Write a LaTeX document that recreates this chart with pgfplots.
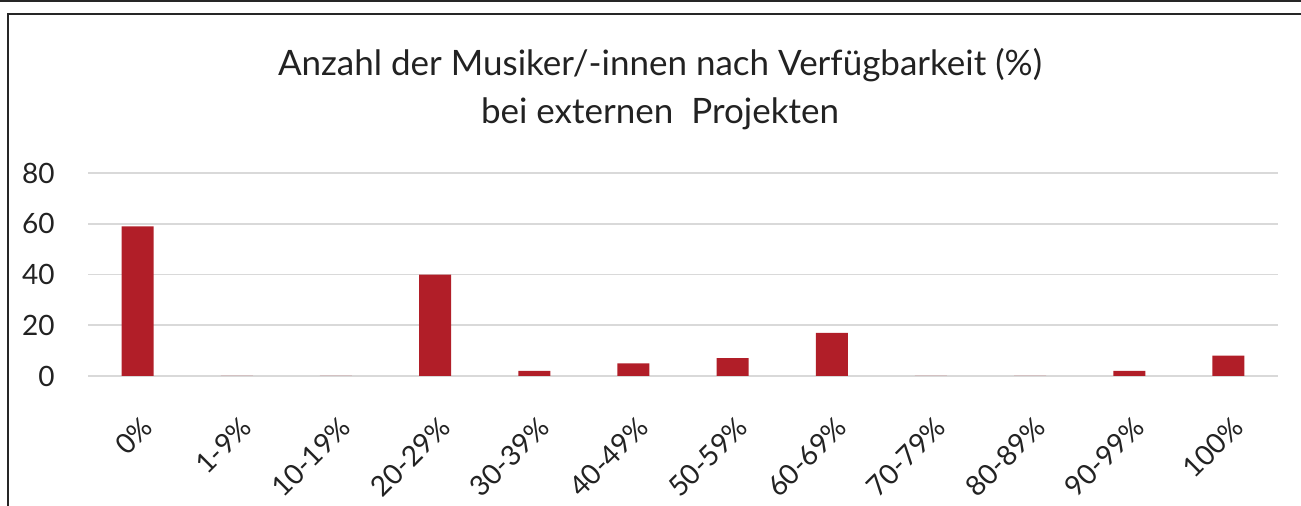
\documentclass[border=0pt]{standalone}
\usepackage{fontspec}
\setmainfont{Lato}
\usepackage{pgfplots}
\pgfplotsset{compat=1.18}
\definecolor{barred}{HTML}{B11E28}
\definecolor{gridgray}{HTML}{D9D9D9}
\definecolor{txt}{HTML}{222222}
\begin{document}
\begin{tikzpicture}
% frame: 1 px = 0.5pt
\path[use as bounding box] (0,0) rectangle (650.5pt,-253pt);
\draw[black!85,line width=0.6pt] (0,-0.5pt) -- (650.5pt,-0.5pt);
\draw[black!85,line width=1.2pt] (3.6pt,-7pt) -- (650.5pt,-7pt);
\draw[black!85,line width=0.7pt] (4pt,-7pt) -- (4pt,-253pt);
\node[font=\fontsize{17.5}{24}\selectfont,text=txt,align=center] at (330pt,-44.5pt)
  {Anzahl der Musiker/-innen nach Verfügbarkeit (\%)\\bei externen\ \ Projekten};
\begin{axis}[
  at={(44pt,-188pt)}, anchor=south west,
  scale only axis, width=595pt, height=101.5pt,
  xmin=-0.5, xmax=11.5, ymin=0, ymax=80,
  ytick={0,20,...,80},
  xtick={0,...,11},
  xticklabels={0\%,1-9\%,10-19\%,20-29\%,30-39\%,40-49\%,50-59\%,60-69\%,70-79\%,80-89\%,90-99\%,100\%},
  axis line style={draw=none},
  major tick length=0pt,
  ymajorgrids, grid style={gridgray,line width=0.8pt},
  ybar, bar width=16pt,
  tick label style={font=\fontsize{14}{16}\selectfont,text=txt},
  /pgf/number format/assume math mode=true,
  yticklabel style={anchor=east,inner sep=0pt,xshift=-16.5pt},
  xticklabel style={inner sep=0pt,xshift=5pt,yshift=-23pt,rotate=45,anchor=east},
]
\addplot[fill=barred,draw=none] coordinates {
  (0,59) (1,0) (2,0) (3,40) (4,2) (5,5) (6,7) (7,17) (8,0) (9,0) (10,2) (11,8)
};
\end{axis}
\end{tikzpicture}
\end{document}
